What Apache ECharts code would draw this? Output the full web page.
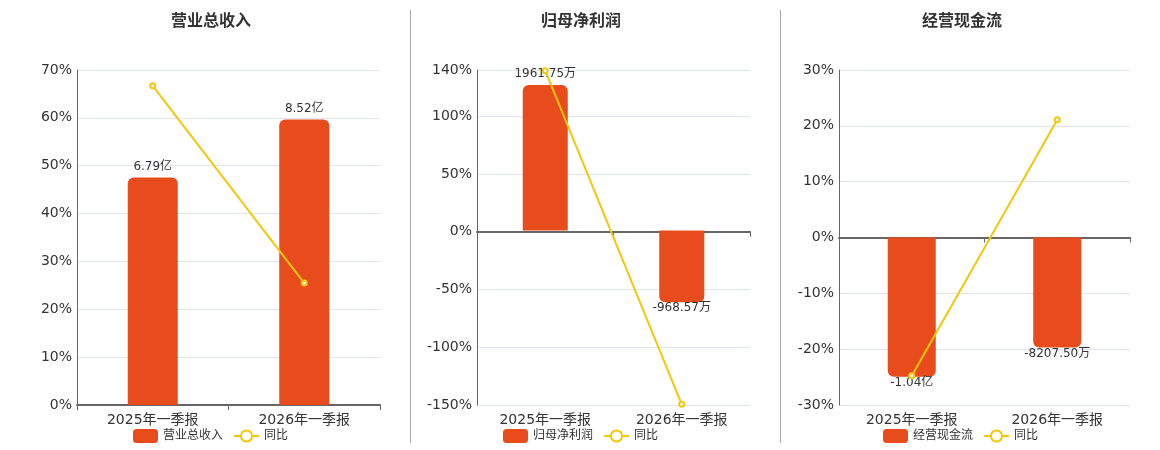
<!DOCTYPE html>
<html>
<head>
<meta charset="utf-8">
<script src="https://cdn.jsdelivr.net/npm/echarts@6/dist/echarts.min.js"></script>
<style>
html,body{margin:0;padding:0;background:#fff;}
#c{width:1160px;height:450px;}
</style>
</head>
<body>
<div id="c"></div>
<script>
var categories = ['2025年一季报', '2026年一季报'];

var titles = ['营业总收入', '归母净利润', '经营现金流'];

// bar values (panel 1 in 亿, panels 2-3 in 万)
var revenue = [6.79, 8.52];
var netProfit = [1961.75, -968.57];
var cashFlow = [-10400, -8207.5];

var revenueLabels = ['6.79亿', '8.52亿'];
var netProfitLabels = ['1961.75万', '-968.57万'];
var cashFlowLabels = ['-1.04亿', '-8207.50万'];

// YoY (%)
var revenueYoY = [66.7, 25.48];
var netProfitYoY = [139.4, -149.37];
var cashFlowYoY = [-24.75, 21.08];

// percent axis ranges
var pctMin = [0, -150, -30];
var pctMax = [70, 140, 30];
var pctInterval = [10, 50, 10];

// hidden bar axis ranges
var barMin = [0, -2357, -12500];
var barMax = [10, 2165, 12500];

var FONT = 'DejaVu Sans, Noto Sans CJK SC, sans-serif';
var BAR_COLOR = '#e84c1d';
var LINE_COLOR = '#f4c70c';

var grids = [
  {left: 77, top: 70, width: 303, height: 335},
  {left: 477, top: 70, width: 273, height: 335},
  {left: 839, top: 70, width: 291, height: 335}
];
var titleLeft = [171, 541, 922];
var legendLeft = [128, 498, 878];

var barValues = [revenue, netProfit, cashFlow];
var barLabels = [revenueLabels, netProfitLabels, cashFlowLabels];
var yoyValues = [revenueYoY, netProfitYoY, cashFlowYoY];

var option = {
  animation: false,
  textStyle: {fontFamily: FONT},
  title: [], grid: [], xAxis: [], yAxis: [], series: [], legend: [],
  graphic: [
    {type: 'line', shape: {x1: 410.5, y1: 10, x2: 410.5, y2: 443}, style: {stroke: '#aaa', lineWidth: 1}},
    {type: 'line', shape: {x1: 780.5, y1: 10, x2: 780.5, y2: 443}, style: {stroke: '#aaa', lineWidth: 1}}
  ]
};

for (var i = 0; i < 3; i++) {
  option.title.push({
    text: titles[i], left: titleLeft[i], top: 14, padding: 0,
    textStyle: {fontSize: 16, fontWeight: 'bold', color: '#333', fontFamily: FONT}
  });
  option.grid.push(grids[i]);
  option.xAxis.push({
    type: 'category', gridIndex: i, data: categories,
    axisLine: {onZero: true, onZeroAxisIndex: i * 2, lineStyle: {color: '#666', width: 2}},
    axisTick: {show: true, length: 5, lineStyle: {color: '#666'}},
    axisLabel: {fontSize: 14, color: '#333', margin: 8, fontFamily: FONT, interval: 0}
  });
  option.yAxis.push({
    type: 'value', gridIndex: i, min: pctMin[i], max: pctMax[i], interval: pctInterval[i],
    axisLine: {show: true, lineStyle: {color: '#666', width: 1}},
    axisTick: {show: false},
    axisLabel: {fontSize: 14, color: '#333', margin: 5, formatter: '{value}%', fontFamily: FONT},
    splitLine: {show: true, lineStyle: {color: '#e0e6f1'}}
  });
  option.yAxis.push({
    type: 'value', gridIndex: i, min: barMin[i], max: barMax[i], show: false,
    splitLine: {show: false}
  });
  var bdata = barValues[i].map(function (v, k) {
    var neg = v < 0;
    return {
      value: v,
      itemStyle: {borderRadius: neg ? [0, 0, 6, 6] : [6, 6, 0, 0]},
      label: {position: neg ? 'bottom' : 'top', distance: neg ? 0 : 5, formatter: barLabels[i][k]}
    };
  });
  option.series.push({
    name: titles[i], type: 'bar', xAxisIndex: i, yAxisIndex: i * 2 + 1,
    barWidth: '33%', data: bdata,
    itemStyle: {color: BAR_COLOR, borderRadius: 6},
    label: {show: true, fontSize: 12, color: '#333', fontFamily: FONT}
  });
  option.series.push({
    name: '同比', type: 'line', xAxisIndex: i, yAxisIndex: i * 2,
    data: yoyValues[i], symbol: 'emptyCircle', symbolSize: 5,
    lineStyle: {color: LINE_COLOR, width: 2},
    itemStyle: {color: LINE_COLOR, borderColor: LINE_COLOR, borderWidth: 1.5},
    z: 5
  });
  option.legend.push({
    left: legendLeft[i], top: 424, itemWidth: 25, itemHeight: 14, itemGap: 10,
    textStyle: {fontSize: 12, color: '#333', fontFamily: FONT},
    data: [
      {name: titles[i], itemStyle: {borderRadius: 4}},
      {name: '同比'}
    ]
  });
}

var chart = echarts.init(document.getElementById('c'));
chart.setOption(option);
</script>
</body>
</html>
